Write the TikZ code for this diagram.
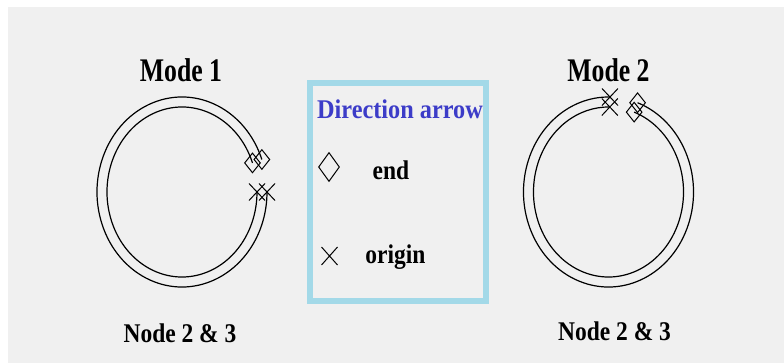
\documentclass[tikz,border=0pt]{standalone}
\usepackage{fontspec}
\setmainfont{Liberation Serif}
\newfontfamily\titlefont[FakeStretch=0.78]{Liberation Serif}
\newfontfamily\labelfont[FakeStretch=0.87]{Liberation Serif}
\newfontfamily\headfont[FakeStretch=0.9]{Liberation Serif}
\usetikzlibrary{shapes.geometric,shapes.misc}
\definecolor{panelgray}{HTML}{F0F0F0}
\definecolor{legendblue}{HTML}{A3D9E8}
\definecolor{headblue}{HTML}{3C3CC8}

\begin{document}
\begin{tikzpicture}[x=1pt,y=-1pt,
  ringline/.style={line width=1.2pt},
  endmark/.style={draw, diamond, inner sep=0pt, minimum width=16pt, minimum height=20pt, line width=1pt},
  originmark/.style={draw, cross out, inner sep=0pt, minimum width=15pt, minimum height=16pt, line width=1pt},
  modetitle/.style={font=\titlefont\bfseries\fontsize{33}{33}\selectfont, inner sep=0pt, anchor=base},
  nodelabel/.style={font=\labelfont\bfseries\fontsize{27}{27}\selectfont, inner sep=0pt, anchor=base},
]
% canvas
\fill[white] (0,0) rectangle (784,363);
\fill[panelgray] (8,7) rectangle (784,363);
\useasboundingbox (0,0) rectangle (784,363);

% ---- Mode 1: ring open on the right ----
\node[modetitle] (t1) at (181,82) {Mode 1};
\coordinate (m1c) at (182,192);
\draw[ringline] (m1c) ++(-20:85 and 95) coordinate (m1oe)
  arc[start angle=-20, end angle=-360, x radius=85, y radius=95] coordinate (m1os);
\draw[ringline] (m1c) ++(-20:75 and 85) coordinate (m1ie)
  arc[start angle=-20, end angle=-360, x radius=75, y radius=85] coordinate (m1is);
\node[endmark] (m1endo) at (m1oe) {};
\node[endmark] (m1endi) at (m1ie) {};
\node[originmark] (m1orgo) at (m1os) {};
\node[originmark] (m1orgi) at (m1is) {};
\node[nodelabel] (n1) at (180,342) {Node 2 \& 3};

% ---- Mode 2: ring open at the top ----
\node[modetitle] (t2) at (608.5,82) {Mode 2};
\coordinate (m2c) at (608.5,192);
\draw[ringline] (m2c) ++(-70:85 and 95) coordinate (m2oe)
  arc[start angle=-70, end angle=271, x radius=85, y radius=95] coordinate (m2os);
\draw[ringline] (m2c) ++(-70:75 and 85) coordinate (m2ie)
  arc[start angle=-70, end angle=271, x radius=75, y radius=85] coordinate (m2is);
\node[endmark] (m2endo) at (m2oe) {};
\node[endmark] (m2endi) at (m2ie) {};
\node[originmark] (m2orgo) at (m2os) {};
\node[originmark] (m2orgi) at (m2is) {};
\node[nodelabel] (n2) at (614.5,340) {Node 2 \& 3};

% ---- legend ----
\node[draw=legendblue, line width=6pt, minimum width=176pt, minimum height=217.5pt, inner sep=0pt]
  (legend) at (397.5,192.25) {};
\node[font=\headfont\bfseries\fontsize{27}{27}\selectfont, text=headblue, inner sep=0pt, anchor=base]
  (head) at (400,119) {Direction arrow};
\node[draw, diamond, inner sep=0pt, minimum width=21pt, minimum height=29pt, line width=1pt]
  (keyend) at (329,167) {};
\node[nodelabel] (keyendtxt) at (391,180) {end};
\node[draw, cross out, inner sep=0pt, minimum width=15pt, minimum height=17pt, line width=1pt]
  (keyorg) at (329.5,256) {};
\node[nodelabel] (keyorgtxt) at (395.5,264) {origin};
\end{tikzpicture}
\end{document}
